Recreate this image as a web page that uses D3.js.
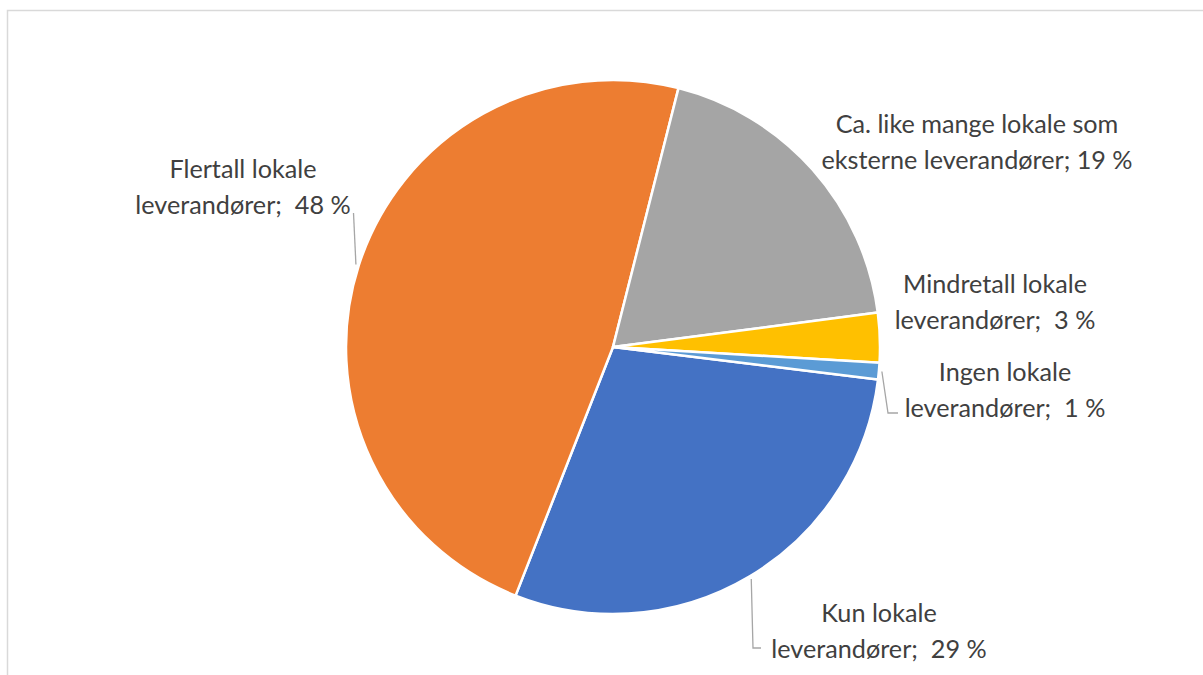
<!DOCTYPE html>
<html>
<head>
<meta charset="utf-8">
<script src="https://cdn.jsdelivr.net/npm/d3@7"></script>
<style>
  html, body { margin: 0; padding: 0; background: #fff; }
  svg { display: block; }
  text { font-family: Lato, "Open Sans", sans-serif; fill: #404040; white-space: pre; }
</style>
</head>
<body>
<svg id="chart" width="1203" height="675"></svg>
<script>
// Share of local suppliers
const categories = [
  "Kun lokale leverandører",
  "Flertall lokale leverandører",
  "Ca. like mange lokale som eksterne leverandører",
  "Mindretall lokale leverandører",
  "Ingen lokale leverandører"
];
const values = [29, 48, 19, 3, 1];
const labelLines = [
  ["Kun lokale", "leverandører;  29 %"],
  ["Flertall lokale", "leverandører;  48 %"],
  ["Ca. like mange lokale som", "eksterne leverandører; 19 %"],
  ["Mindretall lokale", "leverandører;  3 %"],
  ["Ingen lokale", "leverandører;  1 %"]
];
const colors = ["#4472C4", "#ED7D31", "#A5A5A5", "#FFC000", "#5B9BD5"];

const W = 1203, H = 675;
const cx = 613, cy = 347, R = 267;
const firstSliceDeg = 97;

const svg = d3.select("#chart");

// chart area frame
svg.append("rect")
  .attr("x", 7.5).attr("y", 10.5)
  .attr("width", W + 20).attr("height", H + 20)
  .attr("fill", "none").attr("stroke", "#d9d9d9").attr("stroke-width", 1.5);

const data = categories.map((c, i) => ({ cat: c, value: values[i], lines: labelLines[i], color: colors[i] }));

const pie = d3.pie().sort(null).value(d => d.value)
  .startAngle(firstSliceDeg * Math.PI / 180)
  .endAngle(firstSliceDeg * Math.PI / 180 + 2 * Math.PI);
const arcs = pie(data);
const arc = d3.arc().innerRadius(0).outerRadius(R);

const g = svg.append("g").attr("transform", `translate(${cx},${cy})`);
g.selectAll("path.slice").data(arcs).join("path")
  .attr("class", "slice")
  .attr("d", arc)
  .attr("fill", d => d.data.color)
  .attr("stroke", "#fff").attr("stroke-width", 2.5).attr("stroke-linejoin", "round");

// label placement: centre of the text block, plus leader-line routing
const labelLayout = {
  "Kun lokale leverandører": { x: 879, y: 622, leader: "elbow", corner: [753, 648], end: [761, 648] },
  "Flertall lokale leverandører": { x: 243, y: 178, leader: "straight", end: [353.5, 213] },
  "Ca. like mange lokale som eksterne leverandører": { x: 977, y: 133, leader: null },
  "Mindretall lokale leverandører": { x: 995, y: 293, leader: null },
  "Ingen lokale leverandører": { x: 1005, y: 381, leader: "elbow", corner: [888, 413], end: [898, 413] }
};

const lineGap = 35.5;
const labels = svg.append("g");
arcs.forEach(a => {
  const L = labelLayout[a.data.cat];
  const t = labels.append("text")
    .attr("text-anchor", "middle")
    .attr("font-size", 25.2);
  a.data.lines.forEach((ln, k) => {
    t.append("tspan").attr("x", L.x).attr("y", L.y + k * lineGap).text(ln);
  });
  if (L.leader) {
    const mid = (a.startAngle + a.endAngle) / 2;
    const r0 = R + 3;
    const sx = cx + r0 * Math.sin(mid), sy = cy - r0 * Math.cos(mid);
    const pts = L.leader === "elbow" ? [[sx, sy], L.corner, L.end] : [[sx, sy], L.end];
    labels.append("path")
      .attr("d", d3.line()(pts))
      .attr("fill", "none").attr("stroke", "#a6a6a6").attr("stroke-width", 1.3);
  }
});
</script>
</body>
</html>
